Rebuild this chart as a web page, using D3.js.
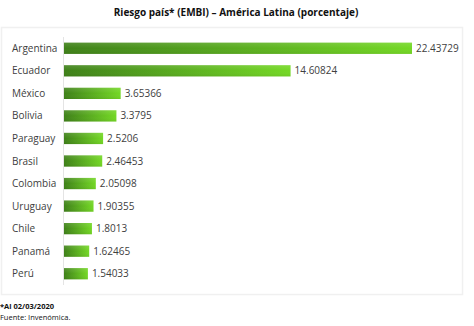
<!DOCTYPE html>
<html><head><meta charset="utf-8">
<script src="https://cdn.jsdelivr.net/npm/d3@7"></script>
<style>
html,body{margin:0;padding:0;background:#fff;}
svg{display:block;}
</style></head>
<body>
<script>
const countries = ["Argentina","Ecuador","México","Bolivia","Paraguay","Brasil","Colombia","Uruguay","Chile","Panamá","Perú"];
const values = [22.43729,14.60824,3.65366,3.3795,2.5206,2.46453,2.05098,1.90355,1.8013,1.62465,1.54033];
const valueLabels = ["22.43729","14.60824","3.65366","3.3795","2.5206","2.46453","2.05098","1.90355","1.8013","1.62465","1.54033"];
const titleText = "Riesgo país* (EMBI) – América Latina (porcentaje)";
const notes = ["*Al 02/03/2020","Fuente: Invenómica."];

const W = 474, H = 326;
const svg = d3.select("body").append("svg").attr("width", W).attr("height", H);
const font = "'Open Sans', 'DejaVu Sans', sans-serif";

const defs = svg.append("defs");
const grad = defs.append("linearGradient").attr("id","barGrad")
  .attr("x1","0%").attr("x2","100%").attr("y1","0%").attr("y2","0%");
grad.append("stop").attr("offset","0%").attr("stop-color","#3f8119");
grad.append("stop").attr("offset","100%").attr("stop-color","#74d825");
const gradV = defs.append("linearGradient").attr("id","barShade")
  .attr("x1","0%").attr("x2","0%").attr("y1","0%").attr("y2","100%");
gradV.append("stop").attr("offset","0%").attr("stop-color","#ffffff").attr("stop-opacity",0.12);
gradV.append("stop").attr("offset","50%").attr("stop-color","#ffffff").attr("stop-opacity",0);
gradV.append("stop").attr("offset","100%").attr("stop-color","#000000").attr("stop-opacity",0.06);

// Panel
svg.append("rect").attr("x",1.5).attr("y",27.5).attr("width",461).attr("height",267)
  .attr("fill","#fff").attr("stroke","#f0f0f0").attr("stroke-width",1.5);

// Title
svg.append("text").attr("x",236).attr("y",16).attr("text-anchor","middle")
  .attr("font-family",font).attr("font-weight","bold").attr("font-size",10)
  .attr("fill","#111").text(titleText);

const x0 = 64;
const x = d3.scaleLinear().domain([0, 22.43729]).range([x0, 412]);
const y = d3.scaleBand().domain(countries).range([37, 285]).paddingInner(0.5).paddingOuter(0.25);

// axis line
svg.append("line").attr("x1",63.5).attr("x2",63.5).attr("y1",37).attr("y2",285)
  .attr("stroke","#e4e4e4").attr("stroke-width",1);

const rows = svg.append("g").selectAll("g").data(countries).join("g");
rows.append("rect")
  .attr("x", x(0)).attr("y", d => y(d))
  .attr("width", (d,i) => x(values[i]) - x(0))
  .attr("height", y.bandwidth())
  .attr("fill","url(#barGrad)");
rows.append("rect")
  .attr("x", x(0)).attr("y", d => y(d))
  .attr("width", (d,i) => x(values[i]) - x(0))
  .attr("height", y.bandwidth())
  .attr("fill","url(#barShade)");
rows.append("text")
  .attr("x", 12).attr("y", d => y(d) + y.bandwidth()/2)
  .attr("dy","0.35em").attr("font-family",font).attr("font-size",10)
  .attr("fill","#404040").text(d => d);
rows.append("text")
  .attr("x", (d,i) => x(values[i]) + 4).attr("y", d => y(d) + y.bandwidth()/2)
  .attr("dy","0.35em").attr("font-family",font).attr("font-size",10)
  .attr("fill","#404040").text((d,i) => valueLabels[i]);

// notes
svg.append("text").attr("x",0).attr("y",309).attr("font-family",font)
  .attr("font-size",7.5).attr("font-weight","bold").attr("fill","#111").text(notes[0]);
svg.append("text").attr("x",0).attr("y",320).attr("font-family",font)
  .attr("font-size",7.5).attr("fill","#111").text(notes[1]);
</script>
</body></html>
